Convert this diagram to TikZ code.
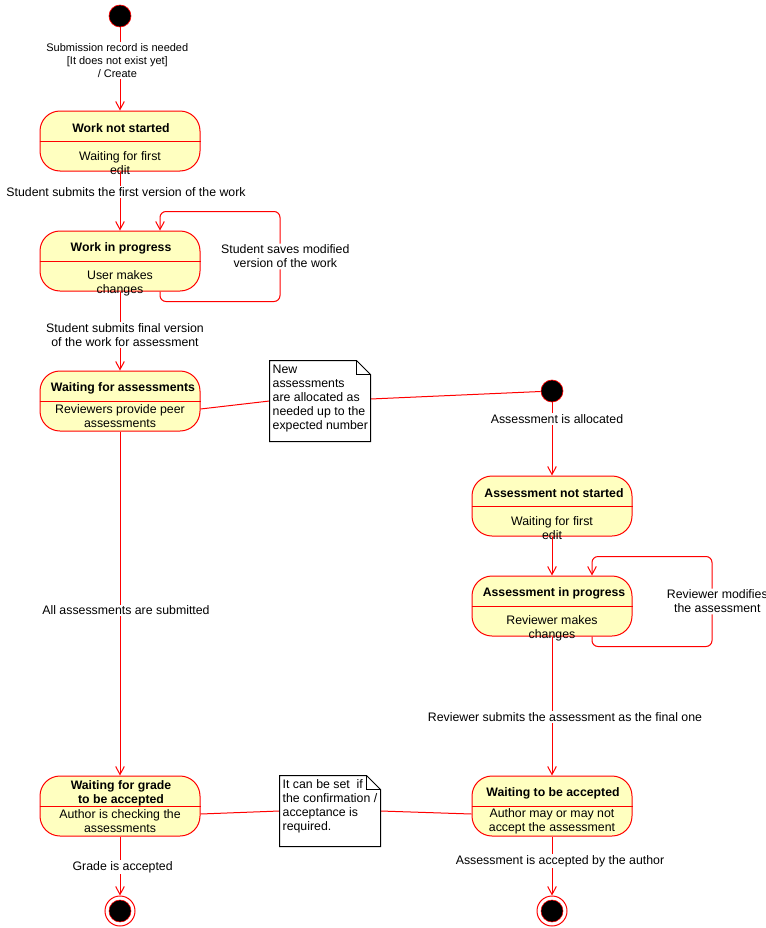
\documentclass[tikz,border=0pt]{standalone}
\usepackage{fontspec}
\setmainfont{Liberation Sans}
\usetikzlibrary{arrows.meta}
\definecolor{umlred}{HTML}{FF0000}
\definecolor{umlyellow}{HTML}{FFFFC0}
\tikzset{state/.style={draw=umlred, fill=umlyellow, rounded corners=15pt, minimum width=120pt, minimum height=45pt, inner sep=0pt}}
\tikzset{statetitle/.style={font=\bfseries\fontsize{9.2}{10.5}\selectfont, align=center, inner sep=0pt}}
\tikzset{statebody/.style={font=\fontsize{9.25}{10.5}\selectfont, align=center, inner sep=0pt}}
\tikzset{trans/.style={draw=umlred, -{Straight Barb[length=6pt, width=6.5pt]}}}
\tikzset{lbl/.style={fill=white, font=\fontsize{9.25}{10.5}\selectfont, align=center, inner sep=1pt}}
\tikzset{guardlbl/.style={lbl, font=\fontsize{8.25}{9.75}\selectfont}}
\tikzset{initial/.style={circle, fill=black, draw=umlred, line width=0.5pt, minimum size=16.5pt, inner sep=0pt}}
\tikzset{final/.style={circle, draw=umlred, fill=white, minimum size=22.5pt, inner sep=0pt, path picture={\filldraw[black, draw=umlred, line width=0.4pt] (path picture bounding box.center) circle (8.25pt);}}}
\tikzset{notebox/.style={minimum width=75pt, inner sep=0pt}}
\tikzset{notetext/.style={font=\fontsize{9.25}{10.5}\selectfont, align=left, inner xsep=2pt, inner ysep=3pt, anchor=north west}}
\begin{document}
\begin{tikzpicture}[x=0.75pt, y=-0.75pt, line width=0.75pt]
\useasboundingbox (0,0) rectangle (766,928);
% the work
\node[initial] (init1) at (120,16) {};
\node[state] (wns) at (120,141) {};
\node[state] (wip) at (120,261) {};
\node[state] (wfa) at (120,401) {};
\node[state] (wfg) at (120,806) {};
\node[final] (final1) at (120,911) {};
% one assessment
\node[initial] (init2) at (552,391) {};
\node[state] (ans) at (552,506) {};
\node[state] (aip) at (552,606) {};
\node[state] (wtba) at (552,806) {};
\node[final] (final2) at (552,911) {};
\foreach \s in {wns, wip, wfa, wfg, ans, aip, wtba}
  \draw[umlred] (\s.west) -- (\s.east);
% state texts
\node[statetitle] at (121,128) {Work not started};
\node[statebody] at (120,163) {Waiting for first\\edit};
\node[statetitle] at (121,248) {Work in progress};
\node[statebody] at (120,283) {User makes\\changes};
\node[statetitle] at (123,388) {Waiting for assessments};
\node[statebody] at (120,416) {Reviewers provide peer\\assessments};
\node[statetitle] at (121,793) {Waiting for grade\\to be accepted};
\node[statebody] at (120,821) {Author is checking the\\assessments};
\node[statetitle] at (554,493) {Assessment not started};
\node[statebody] at (552,528) {Waiting for first\\edit};
\node[statetitle] at (554,593) {Assessment in progress};
\node[statebody] at (552,628) {Reviewer makes\\changes};
\node[statetitle] at (553,793) {Waiting to be accepted};
\node[statebody] at (552,821) {Author may or may not\\accept the assessment};
% transitions
\draw[trans] (init1) -- node[guardlbl, pos=0.4, xshift=-2pt] {Submission record is needed\\{[It does not exist yet]}\\/ Create} (wns);
\draw[trans] (wns) -- node[lbl, pos=0.35, xshift=4.5pt] {Student submits the first version of the work} (wip);
\draw[trans, rounded corners=4.5pt] ([xshift=30pt]wip.south) -- ++(0,10) -- ++(120,0) -- node[lbl, xshift=4pt] {Student saves modified\\version of the work} ++(0,-90) -- ++(-120,0) -- ([xshift=30pt]wip.north);
\draw[trans] (wip) -- node[lbl, pos=0.55, xshift=3.75pt] {Student submits final version\\of the work for assessment} (wfa);
\draw[trans] (wfa) -- node[lbl, pos=0.52, xshift=4.5pt] {All assessments are submitted} (wfg);
\draw[trans] (wfg) -- node[lbl, pos=0.52, xshift=2pt] {Grade is accepted} (final1);
\draw[trans] (init2) -- node[lbl, pos=0.23, xshift=3.75pt] {Assessment is allocated} (ans);
\draw[trans] (ans) -- (aip);
\draw[trans, rounded corners=4.5pt] ([xshift=30pt]aip.south) -- ++(0,10) -- ++(120,0) -- node[lbl, xshift=4pt] {Reviewer modifies\\the assessment} ++(0,-90) -- ++(-120,0) -- ([xshift=30pt]aip.north);
\draw[trans] (aip) -- node[lbl, pos=0.58, xshift=9.75pt] {Reviewer submits the assessment as the final one} (wtba);
\draw[trans] (wtba) -- node[lbl, pos=0.42, xshift=6pt] {Assessment is accepted by the author} (final2);
% notes
\node[notebox, minimum height=60pt] (newnote) at (320,401) {};
\node[notebox, minimum height=52.5pt] (setnote) at (330,811) {};
\draw[umlred] ([yshift=-6pt]wfa.east) -- (newnote.west);
\draw[umlred] ([yshift=1.5pt]newnote.east) -- (init2);
\draw[umlred] ([yshift=-6pt]wfg.east) -- (setnote.west);
\draw[umlred] (setnote.east) -- ([yshift=-6pt]wtba.west);
\foreach \n in {newnote, setnote} {
  \draw[fill=white] (\n.north west) -- ([xshift=-10.5pt]\n.north east) -- ([yshift=-10.5pt]\n.north east) -- (\n.south east) -- (\n.south west) -- cycle;
  \draw ([xshift=-10.5pt]\n.north east) |- ([yshift=-10.5pt]\n.north east);
}
\node[notetext] at (newnote.north west) {New\\assessments\\are allocated as\\needed up to the\\expected number};
\node[notetext] at (setnote.north west) {It can be set~ if\\the confirmation /\\acceptance is\\required.};
\end{tikzpicture}
\end{document}
